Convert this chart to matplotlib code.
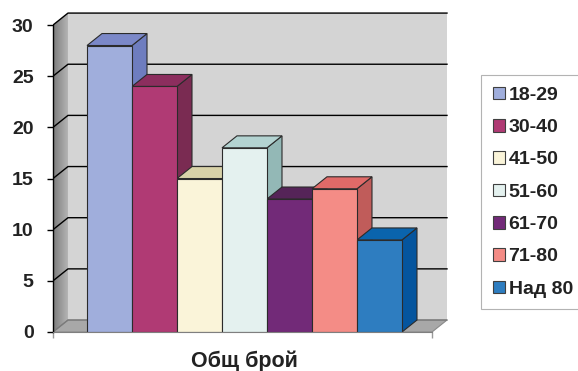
import matplotlib.pyplot as plt
from matplotlib.patches import Patch, Polygon
from matplotlib.colors import LinearSegmentedColormap
import numpy as np

# data
labels = ['18-29', '30-40', '41-50', '51-60', '61-70', '71-80', 'Над 80']
values = [28, 24, 15, 18, 13, 14, 9]
front_colors = ['#A0AEDC', '#B03A74', '#FAF4D9', '#E4F1EF', '#722A78', '#F48C86', '#2E7DC0']
side_colors = ['#6E7DBF', '#7A2B52', '#C9C29A', '#93B8B6', '#4E1F52', '#C05C5A', '#05559E']
top_colors = ['#7B88C8', '#8C2E5E', '#D8D2A8', '#B3D3D1', '#552458', '#E06A68', '#0A64AD']
yticks = [0, 5, 10, 15, 20, 25, 30]
category = 'Общ брой'

plt.rcParams['font.family'] = ['Liberation Sans', 'DejaVu Sans']
text_color = '#222222'

fig = plt.figure(figsize=(5.78, 3.71), dpi=100)
ax = fig.add_axes([53 / 578, 39 / 371, 398.5 / 578, 322.3 / 371])

# front plane limits and 3d depth offset (data units)
x0, x1 = -1.256, 7.167
dx, dy = 0.333, 1.17
ymax = yticks[-1]

# walls and floor
left_wall = Polygon([(x0, 0), (x0 + dx, dy), (x0 + dx, ymax + dy), (x0, ymax)],
                    closed=True, facecolor='none', edgecolor='none', zorder=1)
ax.add_patch(left_wall)
grad = np.linspace(0, 1, 64).reshape(1, -1)
cmap = LinearSegmentedColormap.from_list('wall', ['#7c7c7c', '#b4b4b4'])
im = ax.imshow(grad, extent=[x0, x0 + dx, 0, ymax + dy], cmap=cmap,
               aspect='auto', origin='lower', zorder=1)
im.set_clip_path(left_wall)

back_wall = Polygon([(x0 + dx, dy), (x1 + dx, dy), (x1 + dx, ymax + dy), (x0 + dx, ymax + dy)],
                    closed=True, facecolor='#D4D4D4', edgecolor='none', zorder=1)
ax.add_patch(back_wall)
floor = Polygon([(x0, 0), (x1, 0), (x1 + dx, dy), (x0 + dx, dy)],
                closed=True, facecolor='#A8A8A8', edgecolor='#8a8a8a', lw=0.8, zorder=1.2)
ax.add_patch(floor)

# gridlines on left and back walls
for v in yticks:
    col = '#7a7a7a' if v == 0 else 'black'
    ax.plot([x0, x0 + dx, x1 + dx], [v, v + dy, v + dy], color=col, lw=1.0, zorder=1.5)

# bars: front faces via bar, sides and tops as 3d faces
xs = np.arange(len(values))
ax.bar(xs, values, width=1.0, color=front_colors, edgecolor='#2b2b2b', lw=0.8, zorder=3)
for i, v in enumerate(values):
    l, r = xs[i] - 0.5, xs[i] + 0.5
    side = Polygon([(r, 0), (r + dx, dy), (r + dx, v + dy), (r, v)], closed=True,
                   facecolor=side_colors[i], edgecolor='#2b2b2b', lw=0.8, zorder=2)
    top = Polygon([(l, v), (r, v), (r + dx, v + dy), (l + dx, v + dy)], closed=True,
                  facecolor=top_colors[i], edgecolor='#2b2b2b', lw=0.8, zorder=2)
    ax.add_patch(side)
    ax.add_patch(top)

ax.set_xlim(x0, 7.6)
ax.set_ylim(0, 31.5)

# axes
for s in ['top', 'right']:
    ax.spines[s].set_visible(False)
ax.spines['left'].set_bounds(0, ymax)
ax.spines['left'].set_linewidth(1.0)
ax.spines['left'].set_zorder(4)
ax.spines['bottom'].set_bounds(x0, x1)
ax.spines['bottom'].set_color('#7f7f7f')
ax.spines['bottom'].set_zorder(4)

ax.set_yticks(yticks)
ax.set_yticklabels([str(t) for t in yticks], fontsize=14, fontweight='bold', color=text_color)
ax.tick_params(axis='y', length=4, width=1, pad=10)

ax.set_xticks([3])
ax.set_xticklabels([category], fontsize=15.5, fontweight='bold', color=text_color)
ax.tick_params(axis='x', which='major', length=0, pad=13)
ax.set_xticks([x0, x1], minor=True)
ax.tick_params(axis='x', which='minor', length=4, width=1, color='#9a9a9a')

# legend
handles = [Patch(facecolor=c, edgecolor='#404040', lw=0.8) for c in front_colors]
leg = fig.legend(handles, labels, loc='upper left', bbox_to_anchor=(481 / 578, 1 - 75 / 371),
                 bbox_transform=fig.transFigure, frameon=True, fancybox=False,
                 edgecolor='#a0a0a0', prop={'size': 14, 'weight': 'bold'},
                 handlelength=0.62, handleheight=0.62, handletextpad=0.2,
                 labelspacing=0.78, borderpad=0.6, borderaxespad=0)
leg.get_frame().set_linewidth(0.8)
for t in leg.get_texts():
    t.set_color(text_color)

fig.savefig('out.png', dpi=100)
